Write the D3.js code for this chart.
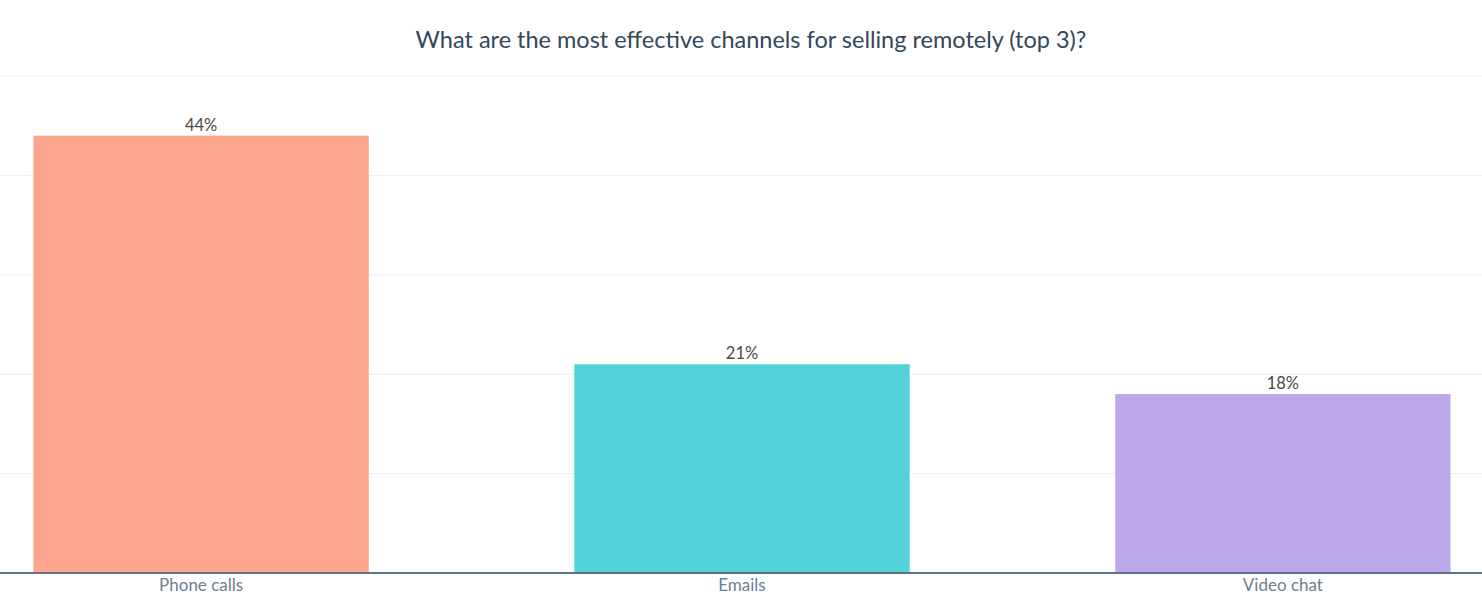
<!DOCTYPE html>
<html>
<head>
<meta charset="utf-8">
<script src="https://cdn.jsdelivr.net/npm/d3@7"></script>
<style>
  body { margin: 0; background: #fff; }
  text { font-family: Lato, "Open Sans", sans-serif; }
</style>
</head>
<body>
<div id="chart"></div>
<script>
const categories = ['Phone calls', 'Emails', 'Video chat'];
const values = [44, 21, 18];
const colors = ['#fea58e', '#51d3d9', '#bda9ea'];
const yTicks = [0, 10, 20, 30, 40, 50];
const title = 'What are the most effective channels for selling remotely (top 3)?';

const width = 1482, height = 607;
const plotTop = 76, plotBottom = 573;

const svg = d3.select('#chart')
  .append('svg')
  .attr('width', width)
  .attr('height', height);

const x = d3.scaleBand()
  .domain(categories)
  .range([1, width + 1])
  .paddingInner(0.38)
  .paddingOuter(0.06);

const y = d3.scaleLinear()
  .domain([0, 50])
  .range([plotBottom, plotTop]);

// title
svg.append('text')
  .attr('x', 751)
  .attr('y', 48)
  .attr('text-anchor', 'middle')
  .attr('font-size', 23.5)
  .attr('fill', '#33475b')
  .text(title);

// gridlines
svg.append('g')
  .selectAll('line')
  .data(yTicks.filter(d => d > 0))
  .enter().append('line')
    .attr('x1', 0)
    .attr('x2', width)
    .attr('y1', d => y(d))
    .attr('y2', d => y(d))
    .attr('stroke', '#eaf0f6')
    .attr('stroke-width', 1);

// bars
svg.append('g')
  .selectAll('rect')
  .data(values)
  .enter().append('rect')
    .attr('x', (d, i) => x(categories[i]))
    .attr('width', x.bandwidth())
    .attr('y', d => y(d))
    .attr('height', d => y(0) - y(d))
    .attr('fill', (d, i) => colors[i]);

// value labels
svg.append('g')
  .selectAll('text')
  .data(values)
  .enter().append('text')
    .attr('x', (d, i) => x(categories[i]) + x.bandwidth() / 2)
    .attr('y', d => y(d) - 5)
    .attr('text-anchor', 'middle')
    .attr('font-size', 16.5)
    .attr('fill', '#4a4a4a')
    .text(d => d + '%');

// x axis
const xAxis = svg.append('g')
  .attr('transform', `translate(0,${plotBottom})`)
  .call(d3.axisBottom(x).tickSize(0).tickPadding(6));
xAxis.select('.domain')
  .attr('stroke', '#5f7489')
  .attr('stroke-width', 2)
  .attr('d', `M0,0H${width}`);
xAxis.selectAll('text')
  .attr('font-size', 17)
  .attr('fill', '#6b7f93')
  .style('font-family', 'Lato, "Open Sans", sans-serif');
</script>
</body>
</html>
